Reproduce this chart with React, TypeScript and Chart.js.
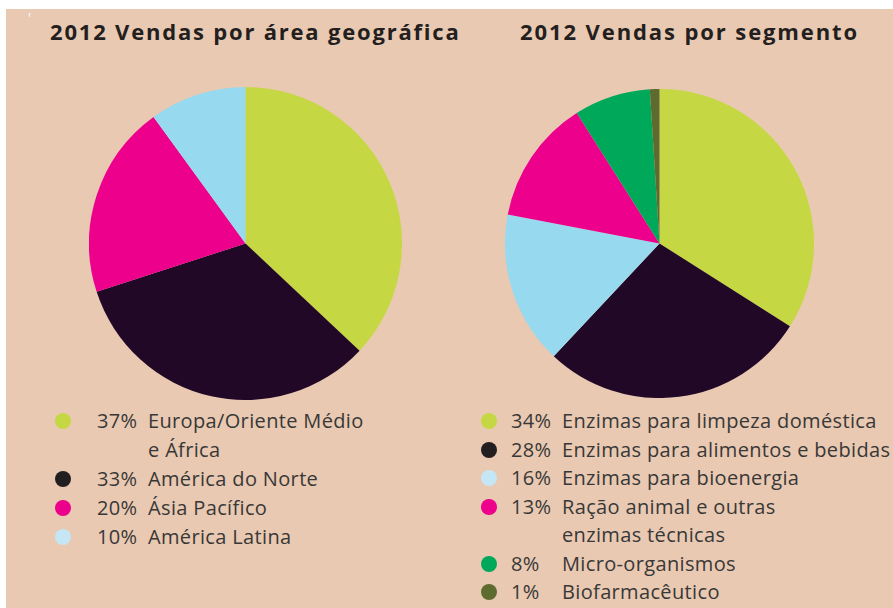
import React, { useEffect, useRef } from "react";
import { Chart, registerables } from "chart.js";

Chart.register(...registerables);

const geoLabels = ["Europa/Oriente Médio e África", "América do Norte", "Ásia Pacífico", "América Latina"];
const geoValues = [37, 33, 20, 10];
const geoColors = ["#C5D843", "#200826", "#EC008C", "#97D9EF"];
const geoLegendColors = ["#C5D843", "#231F20", "#EC008C", "#C5E6F5"];
const geoLegendLines = [["Europa/Oriente Médio", "e África"], ["América do Norte"], ["Ásia Pacífico"], ["América Latina"]];

const segLabels = [
  "Enzimas para limpeza doméstica",
  "Enzimas para alimentos e bebidas",
  "Enzimas para bioenergia",
  "Ração animal e outras enzimas técnicas",
  "Micro-organismos",
  "Biofarmacêutico",
];
const segValues = [34, 28, 16, 13, 8, 1];
const segColors = ["#C5D843", "#200826", "#97D9EF", "#EC008C", "#00A859", "#5E6B2E"];
const segLegendColors = ["#C5D843", "#231F20", "#C5E6F5", "#EC008C", "#00A859", "#5E6B2E"];
const segLegendLines = [
  ["Enzimas para limpeza doméstica"],
  ["Enzimas para alimentos e bebidas"],
  ["Enzimas para bioenergia"],
  ["Ração animal e outras", "enzimas técnicas"],
  ["Micro-organismos"],
  ["Biofarmacêutico"],
];

const BG = "#E9C9B1";
const FONT = "'Open Sans', 'Noto Sans', sans-serif";

function Pie({ labels, values, colors, left, top, size }: any) {
  const ref = useRef<HTMLCanvasElement>(null);
  useEffect(() => {
    if (!ref.current) return;
    const chart = new Chart(ref.current, {
      type: "pie",
      data: {
        labels,
        datasets: [{ data: values, backgroundColor: colors, borderWidth: 0 }],
      },
      options: {
        responsive: false,
        animation: false,
        layout: { padding: 0 },
        plugins: { legend: { display: false }, tooltip: { enabled: false } },
      },
    });
    return () => chart.destroy();
  }, []);
  return (
    <canvas
      ref={ref}
      width={size}
      height={size}
      style={{ position: "absolute", left, top, width: size, height: size }}
    />
  );
}

function Legend({ values, lines, colors, top, dotX, numX, nameX, rowH }: any) {
  const rows: any[] = [];
  let line = 0;
  values.forEach((v: number, i: number) => {
    const y = top + line * rowH;
    rows.push(
      <div key={"d" + i} style={{ position: "absolute", left: dotX - 8, top: y - 8, width: 16, height: 16, borderRadius: 8, background: colors[i] }} />
    );
    rows.push(
      <div key={"n" + i} style={{ position: "absolute", left: numX, top: y - 14, lineHeight: "28px", whiteSpace: "nowrap" }}>
        {v}%
      </div>
    );
    lines[i].forEach((t: string, j: number) => {
      rows.push(
        <div key={"t" + i + "_" + j} style={{ position: "absolute", left: nameX, top: y + j * rowH - 14, lineHeight: "28px", whiteSpace: "nowrap" }}>
          {t}
        </div>
      );
    });
    line += lines[i].length;
  });
  return <>{rows}</>;
}

export default function App() {
  return (
    <div style={{ position: "fixed", left: 0, top: 0, width: 893, height: 608, background: "#FFFFFF", overflow: "hidden", fontFamily: FONT }}>
      <div style={{ position: "absolute", left: 6, top: 9, width: 887, height: 599, background: BG }} />
      <div style={{ position: "absolute", left: 28, top: 8, color: "#FFFFFF", fontSize: 14 }}>'</div>
      <div style={{ position: "absolute", left: 50, top: 16, fontSize: 22, fontWeight: 700, color: "#231F20", letterSpacing: 1.8, whiteSpace: "nowrap" }}>
        2012 Vendas por área geográfica
      </div>
      <div style={{ position: "absolute", left: 520, top: 16, fontSize: 22, fontWeight: 700, color: "#231F20", letterSpacing: 1.9, whiteSpace: "nowrap" }}>
        2012 Vendas por segmento
      </div>
      <Pie labels={geoLabels} values={geoValues} colors={geoColors} left={89} top={87} size={313} />
      <Pie labels={segLabels} values={segValues} colors={segColors} left={505} top={89} size={309} />
      <div style={{ position: "absolute", left: 0, top: 0, fontSize: 20, letterSpacing: 0.35, color: "#383838" }}>
        <Legend values={geoValues} lines={geoLegendLines} colors={geoLegendColors} top={421} dotX={63} numX={97} nameX={148} rowH={29} />
        <Legend values={segValues} lines={segLegendLines} colors={segLegendColors} top={421} dotX={489} numX={511} nameX={562} rowH={28.5} />
      </div>
    </div>
  );
}
